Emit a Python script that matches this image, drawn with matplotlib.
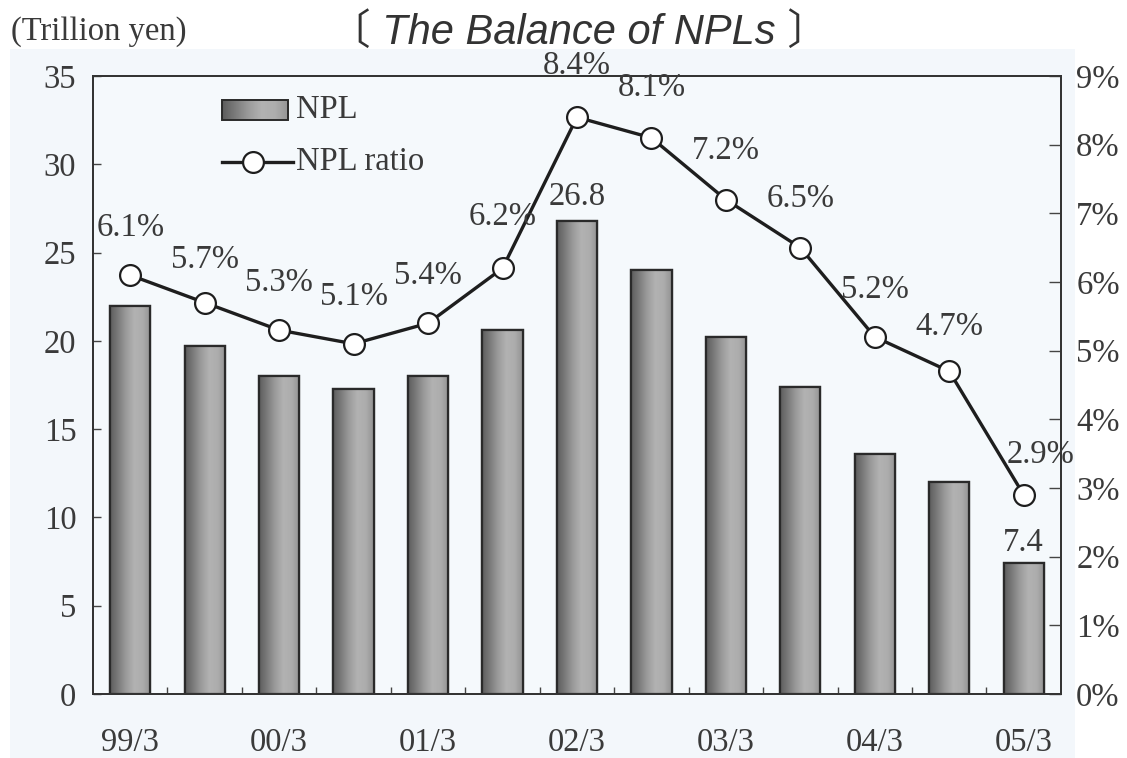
import numpy as np
import matplotlib
matplotlib.use("Agg")
import matplotlib.pyplot as plt
from matplotlib.patches import Rectangle
from matplotlib.lines import Line2D
from matplotlib.colors import LinearSegmentedColormap

# Half-year periods (fiscal March / September)
periods = ['99/3', '99/9', '00/3', '00/9', '01/3', '01/9', '02/3',
           '02/9', '03/3', '03/9', '04/3', '04/9', '05/3']
# NPL balance, trillion yen
npl = [22.0, 19.7, 18.0, 17.3, 18.0, 20.6, 26.8, 24.0, 20.2, 17.4, 13.6, 12.0, 7.4]
# NPL ratio, percent
ratio = [6.1, 5.7, 5.3, 5.1, 5.4, 6.2, 8.4, 8.1, 7.2, 6.5, 5.2, 4.7, 2.9]
# Bars whose value is printed
npl_labelled = [6, 12]
# Axis ticks
left_ticks = [0, 5, 10, 15, 20, 25, 30, 35]
right_ticks = [0, 1, 2, 3, 4, 5, 6, 7, 8, 9]

SERIF = 'Liberation Serif'
TXT = '#3a3a3a'
FS = 23.5

fig = plt.figure(figsize=(11.27, 7.58), dpi=100)
fig.patch.set_facecolor('white')
# faint tint of the printed page
fig.add_artist(Rectangle((0.009, 0.0), 0.945, 0.935, transform=fig.transFigure,
                         facecolor='#f3f7fb', edgecolor='none', zorder=-10))

ax = fig.add_axes([0.0825, 0.0844, 0.8589, 0.8153])
ax.set_facecolor('#f5f9fc')
ax2 = ax.twinx()

x = np.arange(len(periods))
bar_w = 0.54

grad = LinearSegmentedColormap.from_list(
    'bar', ['#5c5c5c', '#7c7c7c', '#9c9c9c', '#b2b2b2', '#adadad', '#939393'])
gimg = np.linspace(0, 1, 128).reshape(1, -1)

bars = ax.bar(x, npl, width=bar_w, color='#a0a0a0', edgecolor='#2a2a2a',
              linewidth=1.6, zorder=2)
for b in bars:
    x0, y0 = b.get_x(), b.get_y()
    im = ax.imshow(gimg, cmap=grad, aspect='auto', interpolation='bilinear',
                   extent=(x0, x0 + b.get_width(), y0, y0 + b.get_height()),
                   zorder=2.5)
    im.set_clip_path(b)
    # redraw outline above the gradient
    ax.add_patch(Rectangle((x0, y0), b.get_width(), b.get_height(),
                           fill=False, edgecolor='#2a2a2a', linewidth=1.6, zorder=3))

bar_offsets = {6: (0, 17), 12: (0, 15)}
for i in npl_labelled:
    ax.annotate(f'{npl[i]:.1f}', (x[i], npl[i]), xytext=bar_offsets[i],
                textcoords='offset points', ha='center', va='center',
                fontsize=FS, family=SERIF, color=TXT, zorder=6)

ax.set_xlim(-0.5, 12.5)
ax.set_ylim(0, 35)
ax.set_yticks(left_ticks)
ax.set_xticks(x[::2])
ax.set_xticklabels(periods[::2])
ax.set_xticks(x[:-1] + 0.5, minor=True)
ax.tick_params(axis='x', which='major', length=0, pad=24, labelsize=FS,
               labelcolor=TXT)
ax.tick_params(axis='x', which='minor', direction='in', length=5, width=1,
               color='#444444')
ax.tick_params(axis='y', direction='in', length=6, width=1, pad=12,
               labelsize=FS, labelcolor=TXT, color='#444444')
for lab in ax.get_xticklabels() + ax.get_yticklabels():
    lab.set_family(SERIF)

# ratio line
ax2.plot(x, ratio, color='#1e1e1e', linewidth=2.4, marker='o', markersize=15,
         markerfacecolor='white', markeredgecolor='#1e1e1e',
         markeredgewidth=1.6, zorder=5)
ratio_offsets = [(0, 34), (0, 31), (0, 34), (0, 34), (0, 34), (0, 37),
                 (0, 37), (0, 36), (0, 35), (0, 35), (0, 34), (0, 32), (12, 29)]
for xi, r, off in zip(x, ratio, ratio_offsets):
    ax2.annotate(f'{r:.1f}%', (xi, r), xytext=off, textcoords='offset points',
                 ha='center', va='center', fontsize=FS, family=SERIF,
                 color=TXT, zorder=6, annotation_clip=False)
ax2.set_ylim(0, 9)
ax2.set_yticks(right_ticks)
ax2.set_yticklabels([f'{t}%' for t in right_ticks])
ax2.tick_params(axis='y', direction='in', length=9, width=1, pad=11,
                labelsize=FS, labelcolor=TXT, color='#444444')
for lab in ax2.get_yticklabels():
    lab.set_family(SERIF)

for a in (ax, ax2):
    for s in a.spines.values():
        s.set_color('#333333')
        s.set_linewidth(1.3)
ax2.patch.set_visible(False)

# legend drawn inside the plot area
lx0, lx1 = 0.133, 0.2015
ly0, ly1 = 0.929, 0.961
key = Rectangle((lx0, ly0), lx1 - lx0, ly1 - ly0, transform=ax.transAxes,
                fill=False, edgecolor='#2a2a2a', linewidth=1.4, zorder=7)
kim = ax.imshow(gimg, cmap=grad, aspect='auto', interpolation='bilinear',
                extent=(lx0, lx1, ly0, ly1), transform=ax.transAxes, zorder=6.5)
kim.set_clip_path(key)
ax.add_patch(key)
ax.text(0.210, 0.945, 'NPL', transform=ax.transAxes, fontsize=FS,
        family=SERIF, color=TXT, va='center', ha='left')
ax.add_line(Line2D([0.133, 0.2065], [0.861, 0.861], transform=ax.transAxes,
                   color='#1e1e1e', linewidth=2.4, zorder=7))
ax.add_line(Line2D([0.165], [0.861], transform=ax.transAxes, marker='o',
                   markersize=15, markerfacecolor='white',
                   markeredgecolor='#1e1e1e', markeredgewidth=1.6, zorder=8))
ax.text(0.210, 0.861, 'NPL ratio', transform=ax.transAxes, fontsize=FS,
        family=SERIF, color=TXT, va='center', ha='left')

ax.set_xlim(-0.5, 12.5)
ax.set_ylim(0, 35)

fig.text(0.010, 0.958, '(Trillion yen)', fontsize=FS, family=SERIF,
         color=TXT, ha='left', va='center')
fig.text(0.514, 0.957, '〔 The Balance of NPLs 〕', fontsize=30,
         family=['Liberation Sans', 'Noto Sans CJK JP'], style='italic',
         color='#333333', ha='center', va='center')

fig.savefig('out.png', dpi=100, facecolor=fig.get_facecolor())
